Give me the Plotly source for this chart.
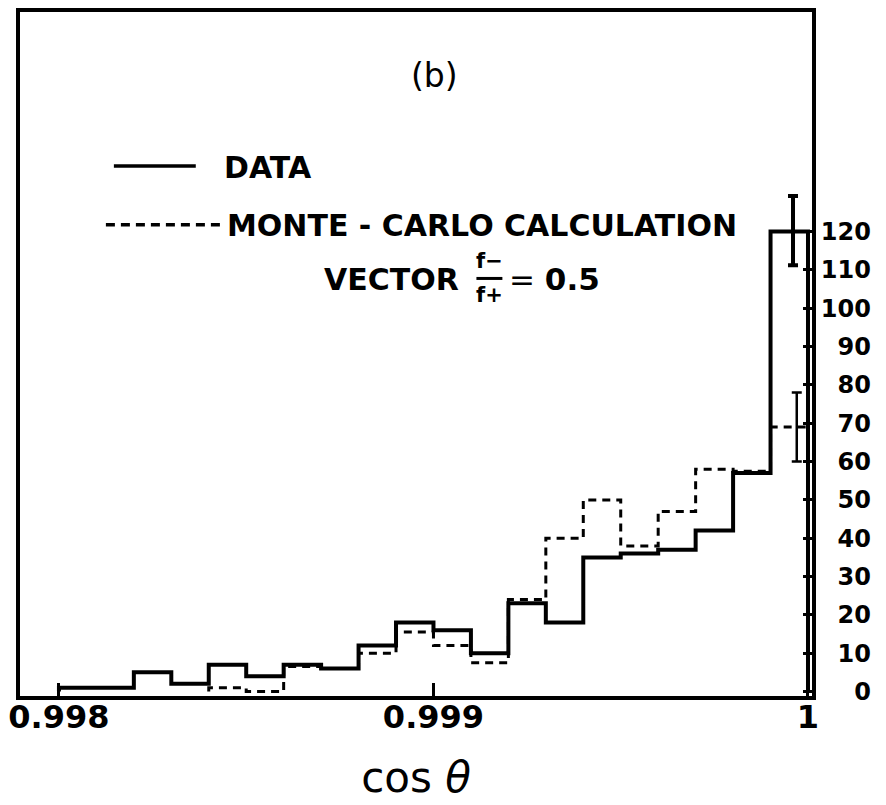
import plotly.graph_objects as go

# ---------------- data ----------------
bin_left = [0.9980, 0.9981, 0.9982, 0.9983, 0.9984, 0.9985, 0.9986, 0.9987,
            0.9988, 0.9989, 0.9990, 0.9991, 0.9992, 0.9993, 0.9994, 0.9995,
            0.9996, 0.9997, 0.9998, 0.9999]
bin_width = 0.0001
data_counts = [1, 1, 5, 2, 7, 4, 7, 6, 12, 18, 16, 10, 23, 18, 35, 36, 37, 42, 57, 120]

mc_left = [0.9984, 0.9985, 0.9986, 0.9987, 0.9988, 0.9989, 0.9990, 0.9991,
           0.9992, 0.9993, 0.9994, 0.9995, 0.9996, 0.9997, 0.9998, 0.9999]
mc_counts = [1, 0, 6.5, 6, 10, 15.5, 12, 7.5, 24, 40, 50, 38, 47, 58, 57.5, 69]

data_err_x = [0.99996]
data_err_y = [120]
data_err_plus = [9.3]
data_err_minus = [8.8]

mc_err_x = [0.99997]
mc_err_y = [69]
mc_err = [9]

x_tickvals = [0.998, 0.999, 1.0]
x_ticktext = ["0.998", "0.999", "1"]
y_tickvals = [0, 10, 20, 30, 40, 50, 60, 70, 80, 90, 100, 110, 120]


def step_xy(lefts, counts, width):
    xs = [lefts[0]] + list(lefts) + [lefts[-1] + width, lefts[-1] + width]
    ys = [0] + list(counts) + [counts[-1], 0]
    return xs, ys


# ---------------- layout geometry (pixels, page has an 8px body margin) ----------------
OFF = 8
W, H = 886 - OFF, 805 - OFF
L, R, T, B = 19 - OFF, 74, 8 - OFF, 109
PW, PH = W - L - R, H - T - B


def px(x):
    # x in page pixels -> paper coordinate
    return (x - OFF - L) / PW


def py(y):
    return (H - B - (y - OFF)) / PH


fig = go.Figure()

dx, dy = step_xy(bin_left, data_counts, bin_width)
fig.add_trace(go.Scatter(x=dx, y=dy, mode="lines", line_shape="hv",
                         line=dict(color="black", width=4), showlegend=False,
                         hoverinfo="skip"))

mx, my = step_xy(mc_left, mc_counts, bin_width)
fig.add_trace(go.Scatter(x=mx, y=my, mode="lines", line_shape="hv",
                         line=dict(color="black", width=3, dash="8px,6px"),
                         showlegend=False, hoverinfo="skip"))

fig.add_trace(go.Scatter(x=data_err_x, y=data_err_y, mode="markers",
                         marker=dict(size=1, color="black"),
                         error_y=dict(type="data", symmetric=False,
                                      array=data_err_plus,
                                      arrayminus=data_err_minus,
                                      color="black", thickness=4, width=5),
                         showlegend=False, hoverinfo="skip"))

fig.add_trace(go.Scatter(x=mc_err_x, y=mc_err_y, mode="markers",
                         marker=dict(size=1, color="black"),
                         error_y=dict(type="data", array=mc_err,
                                      color="black", thickness=2.5, width=5),
                         showlegend=False, hoverinfo="skip"))

label_font = dict(family="DejaVu Sans", size=30, color="black")
frac_font = dict(family="DejaVu Sans", size=21, color="black")


def ann(text, x, y, xanchor, font):
    return dict(text=text, x=px(x), y=py(y), xref="paper", yref="paper",
                xanchor=xanchor, yanchor="middle", showarrow=False, font=font)


annotations = [
    ann("(b)", 434, 72, "center", dict(family="DejaVu Sans", size=33, color="black")),
    ann("<b>DATA</b>", 221, 164, "left", label_font),
    ann("<b>MONTE - CARLO CALCULATION</b>", 224, 223, "left", label_font),
    ann("<b>VECTOR</b>", 321, 277, "left", label_font),
    ann("<b>f−</b>", 489, 258, "center", frac_font),
    ann("<b>f+</b>", 489, 293, "center", frac_font),
    ann("= <b>0.5</b>", 507, 277, "left",
        dict(family="DejaVu Sans", size=31, color="black")),
]


def seg(x0, x1, y, width, dash=None):
    line = dict(color="black", width=width)
    if dash:
        line["dash"] = dash
    return dict(type="line", xref="paper", yref="paper", x0=px(x0), x1=px(x1),
                y0=py(y), y1=py(y), line=line)


shapes = [
    seg(113, 195, 163, 3.5),
    seg(105, 220, 222, 3.5, "9px,6px"),
    seg(476, 502, 276, 3),
]

fig.update_layout(
    width=W, height=H,
    margin=dict(l=L, r=R, t=T, b=B, pad=0),
    paper_bgcolor="white", plot_bgcolor="white",
    showlegend=False,
    annotations=annotations,
    shapes=shapes,
    xaxis=dict(
        range=[0.997896, 1.0000107],
        tickvals=x_tickvals, ticktext=x_ticktext,
        ticks="inside", ticklen=13, tickwidth=3, tickcolor="black",
        ticklabelstandoff=-10, ticklabeloverflow="allow",
        showline=True, mirror=True, linecolor="black", linewidth=4,
        showgrid=False, zeroline=False,
        tickfont=dict(family="DejaVu Sans", size=32, color="black", weight="bold"),
        title=dict(text="cos <i>θ</i>",
                   font=dict(family="DejaVu Sans", size=42, color="black"),
                   standoff=28),
    ),
    yaxis=dict(
        range=[-1.17, 177.3],
        side="right",
        tickvals=y_tickvals,
        ticktext=[f"{v:>3}".replace(" ", "\u2007") for v in y_tickvals],
        ticks="inside", ticklen=9, tickwidth=3, tickcolor="black",
        ticklabeloverflow="allow",
        showline=True, mirror=True, linecolor="black", linewidth=4,
        showgrid=False, zeroline=False,
        tickfont=dict(family="DejaVu Sans", size=24, color="black", weight="bold"),
    ),
)

fig.write_html("out.html")
